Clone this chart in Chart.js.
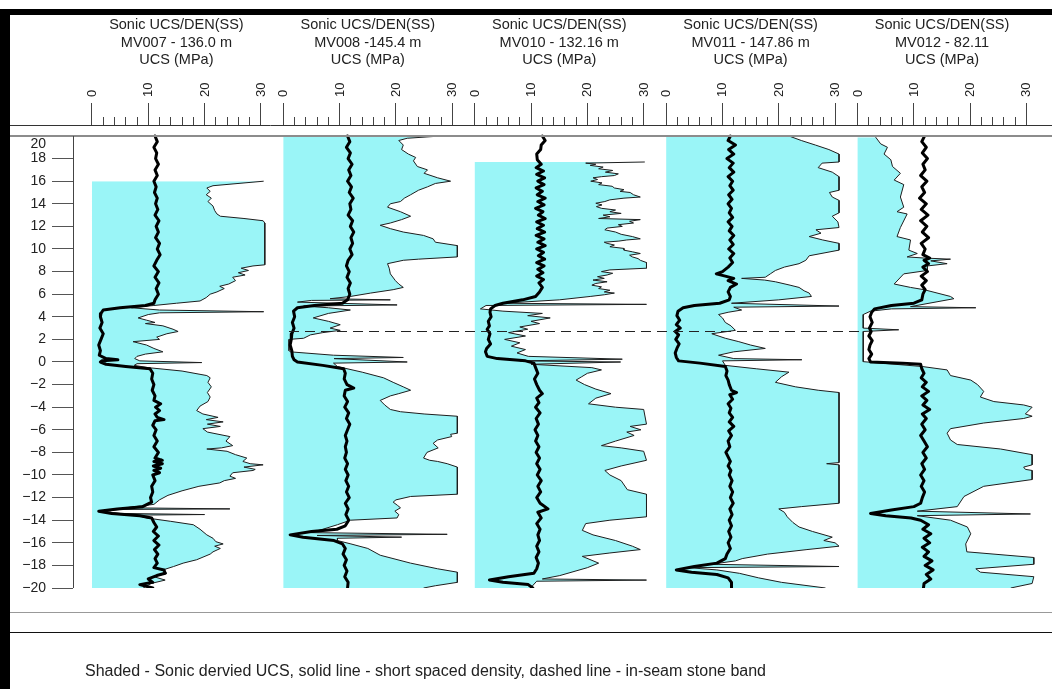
<!DOCTYPE html>
<html>
<head>
<meta charset="utf-8">
<title>Sonic UCS / density logs</title>
<script src="https://cdn.jsdelivr.net/npm/chart.js@4.4.1/dist/chart.umd.min.js"></script>
<style>
  html, body { margin: 0; padding: 0; background: #fff; }
  #wrap { position: relative; width: 1052px; height: 689px; overflow: hidden; }
  #plot { position: absolute; left: 0; top: 0; }
  .bar { position: absolute; background: #000; }
  .rule { position: absolute; left: 10px; width: 1042px; }
  #note { position: absolute; left: 85px; top: 662px; font: 16px "Liberation Sans", Arial, sans-serif; color: #222; white-space: nowrap; }
</style>
</head>
<body>
<div id="wrap">
  <canvas id="plot" width="1052" height="689"></canvas>
  <div class="bar" style="left:0;top:9px;width:1052px;height:6px"></div>
  <div class="bar" style="left:0;top:9px;width:10px;height:680px"></div>
  <div class="rule" style="top:612px;height:1px;background:#999"></div>
  <div class="rule" style="top:632px;height:1px;background:#111"></div>
  <div id="note">Shaded - Sonic dervied UCS, solid line - short spaced density, dashed line - in-seam stone band</div>
</div>
<script>
// ---- Track titles and tick values ----
const trackTitle = 'Sonic UCS/DEN(SS)';
const wellNames = ['MV007 - 136.0 m', 'MV008 -145.4 m', 'MV010 - 132.16 m', 'MV011 - 147.86 m', 'MV012 - 82.11'];
const axisTitle = 'UCS (MPa)';
const ucsMajorTicks = [0, 10, 20, 30];
const ucsMinorTicks = [0, 2, 4, 6, 8, 10, 12, 14, 16, 18, 20, 22, 24, 26, 28, 30];
const depthTicks = [-20, -18, -16, -14, -12, -10, -8, -6, -4, -2, 0, 2, 4, 6, 8, 10, 12, 14, 16, 18, 20];
const stoneBandDepth = 2.7;      // in-seam stone band (m relative to seam floor)
const stoneBandUcs = 1;          // where the dashed marker starts / ends on the UCS scale

// ---- Sonic UCS, [depth (m), UCS (MPa)] ----
const mv007Ucs = [[16.0,30.5],[15.6,21.5],[15.4,20.4],[15.1,21.0],[14.8,20.3],[14.5,21.2],[14.2,20.6],[13.8,21.5],[13.4,21.8],[13.1,22.2],[12.9,22.8],[12.7,27.0],[12.5,30.4],[12.3,30.7],[8.6,30.7],[8.5,28.6],[8.3,26.5],[8.1,27.8],[7.9,26.0],[7.7,27.2],[7.5,25.0],[7.2,25.5],[6.9,24.3],[6.7,22.7],[6.5,23.5],[6.2,22.2],[6.0,21.0],[5.7,20.3],[5.4,19.2],[5.2,15.0],[5.0,11.0],[4.8,7.0],[4.6,12.0],[4.45,30.5],[4.35,12.0],[4.2,10.0],[3.9,8.2],[3.7,9.7],[3.5,11.2],[3.4,9.5],[3.2,12.6],[2.9,14.4],[2.7,15.3],[2.5,13.3],[2.2,11.5],[2.0,12.0],[1.8,7.3],[1.5,9.7],[1.2,11.0],[0.9,12.6],[0.7,9.5],[0.5,8.0],[0.3,7.6],[0.1,8.5],[-0.05,19.5],[-0.15,8.0],[-0.3,7.5],[-0.5,10.0],[-0.8,16.0],[-1.2,20.4],[-1.4,21.0],[-1.8,20.6],[-2.2,21.2],[-2.7,20.5],[-3.1,21.0],[-3.5,20.6],[-3.9,19.2],[-4.3,18.6],[-4.6,19.7],[-4.9,22.4],[-5.1,20.3],[-5.3,23.3],[-5.5,20.5],[-5.7,22.8],[-5.9,19.7],[-6.2,20.5],[-6.6,24.5],[-7.0,23.8],[-7.4,25.0],[-7.6,23.0],[-7.7,20.4],[-7.9,24.0],[-8.2,25.5],[-8.5,27.5],[-8.8,26.8],[-9.0,28.1],[-9.1,30.4],[-9.3,27.0],[-9.5,29.0],[-9.6,28.6],[-9.8,25.0],[-10.1,24.5],[-10.3,25.5],[-10.5,23.5],[-10.7,22.7],[-11.0,19.0],[-11.4,16.0],[-11.8,13.5],[-12.2,12.0],[-12.6,11.0],[-12.9,6.0],[-13.0,24.5],[-13.05,5.0],[-13.2,1.5],[-13.4,5.0],[-13.5,20.0],[-13.55,8.0],[-13.8,9.7],[-14.1,14.0],[-14.4,18.0],[-14.8,19.2],[-15.3,20.4],[-15.6,21.5],[-15.9,22.0],[-16.1,23.3],[-16.3,21.8],[-16.5,22.8],[-16.8,21.5],[-17.0,21.0],[-17.5,18.6],[-17.8,16.2],[-18.1,14.5],[-18.4,12.6],[-18.7,13.3],[-19.0,11.0],[-19.3,13.0],[-19.6,10.5],[-20.0,9.1]];
const mv008Ucs = [[20.0,28.0],[19.8,22.0],[19.6,20.5],[19.2,21.3],[18.8,21.0],[18.4,22.2],[18.1,23.5],[17.8,23.1],[17.3,23.8],[17.0,25.6],[16.7,25.0],[16.3,27.4],[16.0,29.7],[15.8,27.0],[15.5,25.6],[15.2,24.0],[14.8,22.6],[14.5,21.5],[14.2,20.8],[14.0,19.0],[13.7,18.5],[13.3,20.8],[12.9,22.6],[12.6,21.0],[12.3,19.0],[12.1,17.2],[11.8,19.0],[11.5,21.3],[11.2,24.9],[10.9,26.6],[10.6,27.0],[10.3,30.9],[9.3,30.9],[9.1,24.0],[9.0,21.3],[8.7,18.5],[8.3,18.8],[7.8,19.0],[7.2,19.9],[6.9,20.5],[6.6,21.3],[6.4,19.5],[6.1,15.5],[5.8,11.9],[5.6,8.3],[5.5,19.0],[5.45,5.0],[5.3,2.5],[5.05,20.2],[4.95,3.6],[4.8,8.0],[4.6,11.9],[4.3,8.0],[3.9,5.3],[3.6,8.0],[3.3,10.1],[3.0,8.3],[2.8,10.1],[2.6,7.0],[2.4,4.8],[2.1,3.6],[2.0,1.0],[1.0,1.0],[0.9,1.2],[0.6,8.9],[0.4,21.3],[0.3,9.0],[0.0,22.0],[-0.1,8.9],[-0.4,9.6],[-0.9,14.0],[-1.4,17.8],[-1.8,19.5],[-2.2,21.3],[-2.5,22.6],[-2.8,20.5],[-3.0,19.0],[-3.4,17.2],[-3.8,18.0],[-4.2,19.0],[-4.4,20.8],[-4.6,25.0],[-4.8,30.9],[-6.3,30.9],[-6.4,29.7],[-6.6,29.9],[-6.9,27.4],[-7.2,26.6],[-7.6,27.5],[-8.0,25.5],[-8.5,24.9],[-8.7,26.0],[-8.8,27.4],[-9.0,29.1],[-9.3,30.9],[-11.7,30.9],[-11.9,22.6],[-12.2,20.0],[-12.4,19.5],[-12.7,20.3],[-12.9,20.8],[-13.2,19.8],[-13.5,20.5],[-13.8,20.2],[-14.0,11.9],[-14.4,9.6],[-14.8,7.0],[-15.1,5.0],[-15.25,29.1],[-15.35,6.0],[-15.5,21.0],[-15.6,9.6],[-15.8,9.6],[-16.1,12.0],[-16.5,15.0],[-17.1,17.2],[-17.8,22.6],[-18.3,27.4],[-18.6,30.9],[-19.5,30.9],[-19.8,27.0],[-20.0,24.9]];
const mv010Ucs = [[17.7,30.2],[17.6,19.7],[17.5,21.5],[17.4,20.5],[17.25,22.8],[17.1,22.0],[16.95,24.5],[16.8,23.2],[16.65,25.5],[16.5,24.8],[16.4,22.5],[16.3,21.0],[16.15,21.8],[16.0,20.6],[15.85,22.6],[15.7,22.0],[15.55,24.4],[15.4,24.8],[15.25,26.5],[15.1,25.8],[15.0,27.6],[14.8,28.2],[14.6,29.4],[14.5,26.5],[14.35,24.0],[14.2,23.1],[14.05,21.5],[13.9,22.6],[13.75,21.6],[13.6,22.5],[13.45,25.0],[13.3,24.0],[13.15,26.0],[13.0,22.8],[12.85,24.0],[12.7,22.0],[12.6,29.4],[12.45,27.5],[12.3,28.2],[12.15,25.5],[12.0,26.2],[11.85,23.5],[11.7,23.1],[11.5,25.0],[11.3,26.0],[11.1,28.0],[10.9,29.4],[10.8,27.0],[10.7,25.6],[10.6,23.0],[10.5,23.5],[10.35,24.8],[10.2,24.0],[10.05,26.5],[9.9,26.5],[9.75,28.0],[9.6,29.4],[9.45,27.5],[9.3,28.0],[9.15,29.0],[9.0,29.4],[8.8,30.5],[8.3,30.5],[8.15,24.0],[8.0,22.5],[7.85,24.5],[7.7,23.5],[7.55,21.8],[7.4,23.0],[7.25,21.0],[7.1,23.5],[6.95,21.5],[6.8,20.8],[6.65,22.5],[6.5,22.0],[6.35,24.0],[6.2,23.0],[6.1,24.8],[5.95,23.0],[5.8,20.5],[5.5,15.0],[5.2,5.0],[5.1,30.5],[5.0,2.0],[4.7,1.0],[4.5,5.0],[4.3,12.0],[4.1,9.4],[3.9,13.4],[3.6,10.0],[3.4,11.5],[3.1,8.0],[2.9,9.4],[2.6,6.0],[2.3,9.0],[2.0,5.3],[1.7,8.0],[1.4,6.5],[1.1,9.0],[0.8,7.5],[0.5,9.5],[0.25,26.2],[0.1,8.0],[0.0,25.9],[-0.2,10.0],[-0.5,20.8],[-0.7,22.5],[-1.0,20.0],[-1.3,19.0],[-1.6,18.0],[-2.0,19.5],[-2.4,21.5],[-2.8,24.2],[-3.2,21.5],[-3.7,20.2],[-4.0,25.0],[-4.2,30.0],[-5.5,30.5],[-5.7,27.6],[-6.0,29.5],[-6.2,27.0],[-6.5,28.3],[-7.0,25.0],[-7.4,22.5],[-7.6,26.0],[-7.9,30.0],[-8.7,30.5],[-9.2,26.0],[-9.6,23.1],[-10.0,24.0],[-10.5,26.0],[-11.3,27.1],[-11.7,30.5],[-13.7,30.5],[-14.0,24.0],[-14.3,19.7],[-14.9,19.1],[-15.3,21.0],[-15.8,25.0],[-16.3,28.0],[-16.6,29.4],[-16.9,24.0],[-17.2,19.1],[-17.8,22.0],[-18.2,20.0],[-18.9,15.1],[-19.2,12.0],[-19.3,30.5],[-19.4,11.0],[-20.0,9.9]];
const mv011Ucs = [[20.0,21.8],[19.6,24.0],[19.2,26.5],[18.8,28.9],[18.4,30.7],[17.7,30.7],[17.6,27.7],[17.2,27.0],[16.8,29.5],[16.4,30.7],[15.2,30.7],[15.0,29.0],[14.6,29.5],[14.3,30.7],[13.2,30.7],[12.9,29.5],[12.4,30.5],[11.9,30.7],[11.7,26.6],[11.4,27.5],[11.1,25.4],[10.8,27.8],[10.5,30.7],[9.9,30.7],[9.4,25.4],[9.0,24.8],[8.7,23.6],[8.4,21.0],[8.1,19.4],[7.8,18.5],[7.5,17.6],[7.4,13.4],[7.25,17.5],[7.1,19.4],[6.8,22.0],[6.6,23.6],[6.3,24.5],[6.1,25.4],[5.8,25.8],[5.5,20.0],[5.2,11.6],[4.95,30.7],[4.85,12.0],[4.6,13.4],[4.4,11.0],[4.2,9.3],[3.9,10.0],[3.5,10.5],[3.2,11.5],[2.8,12.3],[2.5,8.1],[2.1,10.5],[1.8,12.9],[1.5,15.0],[1.2,17.6],[0.9,12.0],[0.6,9.3],[0.3,12.0],[0.2,24.1],[0.1,10.0],[-0.3,10.5],[-0.6,16.0],[-0.9,21.8],[-1.3,20.5],[-1.8,19.4],[-2.2,23.0],[-2.5,27.0],[-2.7,30.7],[-8.9,30.7],[-9.0,28.5],[-9.1,30.7],[-12.5,30.7],[-12.8,24.0],[-13.0,20.0],[-13.3,21.0],[-13.7,21.5],[-14.2,22.5],[-14.6,23.6],[-15.0,26.0],[-15.5,29.5],[-15.8,28.0],[-16.0,30.0],[-16.3,30.7],[-16.6,25.0],[-17.0,18.0],[-17.4,13.5],[-17.6,12.3],[-17.9,8.0],[-18.1,30.7],[-18.2,4.0],[-18.4,9.0],[-18.7,13.0],[-19.1,16.4],[-19.5,20.5],[-20.0,28.3]];
const mv012Ucs = [[19.9,3.2],[19.3,4.1],[19.0,5.3],[18.4,4.7],[17.9,5.9],[17.3,6.2],[16.7,7.6],[16.1,6.5],[15.7,8.2],[14.6,7.6],[13.7,8.2],[13.3,7.0],[13.1,8.8],[11.9,7.6],[11.1,7.0],[10.8,9.4],[9.9,9.1],[9.6,10.6],[9.3,8.8],[9.2,11.8],[9.1,16.5],[8.95,13.0],[8.7,15.9],[8.5,12.4],[8.1,12.4],[7.8,8.2],[6.9,6.5],[6.6,9.4],[6.4,11.8],[5.8,16.5],[5.6,17.1],[4.9,9.4],[4.8,21.0],[4.7,6.0],[4.5,2.3],[4.2,1.0],[3.0,1.0],[2.85,7.3],[2.7,1.0],[0.2,1.0],[0.03,1.0],[-0.4,11.5],[-0.7,15.9],[-1.2,16.5],[-1.6,20.1],[-2.0,21.3],[-2.6,22.4],[-3.1,21.8],[-3.5,24.2],[-3.8,29.5],[-4.0,31.0],[-4.6,29.8],[-4.8,31.0],[-5.0,29.5],[-5.4,22.4],[-5.9,16.5],[-6.3,15.9],[-6.9,16.5],[-7.3,17.7],[-7.7,25.4],[-8.2,31.0],[-9.1,31.0],[-9.3,29.5],[-9.5,29.8],[-9.6,31.0],[-10.4,31.0],[-11.0,22.4],[-11.9,18.9],[-12.8,17.7],[-13.2,10.6],[-13.45,30.7],[-13.6,10.6],[-14.0,16.5],[-14.6,19.5],[-15.2,20.1],[-16.1,19.2],[-16.8,19.4],[-17.3,31.3],[-17.9,31.3],[-18.3,21.0],[-18.6,21.8],[-19.0,31.3],[-19.6,31.0],[-20.0,27.2]];

// ---- Short-spaced density trace on the same track, [depth (m), value] ----
const mv007Den = [[20,11.2],[19.5,11.6],[19.0,11.0],[18.5,11.5],[18.0,11.3],[17.5,11.8],[17.0,11.2],[16.5,11.6],[16.0,11.0],[15.5,11.4],[15.0,11.1],[14.5,11.6],[14.0,11.3],[13.5,11.7],[13.0,11.2],[12.5,11.9],[12.0,11.4],[11.5,11.8],[11.0,11.3],[10.5,12.0],[10.0,11.6],[9.5,12.1],[9.0,11.5],[8.5,11.0],[8.0,11.8],[7.5,11.2],[7.0,11.9],[6.5,11.4],[6.0,11.8],[5.5,11.2],[5.2,11.0],[5.0,9.5],[4.8,5.0],[4.6,2.0],[4.3,1.6],[4.0,1.5],[3.5,1.8],[3.0,1.4],[2.5,2.0],[2.0,1.6],[1.5,1.2],[1.0,1.5],[0.6,1.3],[0.3,2.5],[0.2,4.6],[0.1,1.8],[0.0,1.5],[-0.2,2.5],[-0.4,6.0],[-0.6,10.3],[-1.0,10.8],[-1.5,10.6],[-2.0,11.0],[-2.5,10.7],[-3.0,11.2],[-3.4,11.0],[-3.7,12.2],[-4.0,11.3],[-4.3,12.0],[-4.6,11.2],[-4.9,11.6],[-5.1,12.8],[-5.2,11.2],[-5.6,10.8],[-6.0,11.4],[-6.5,11.0],[-7.0,11.6],[-7.5,11.0],[-8.0,11.8],[-8.5,11.2],[-8.7,12.5],[-8.8,11.0],[-9.0,12.5],[-9.2,10.9],[-9.4,12.2],[-9.6,11.0],[-9.8,12.0],[-10.0,10.8],[-10.5,11.2],[-11.0,10.6],[-11.5,10.8],[-12.0,10.4],[-12.4,10.6],[-12.8,9.0],[-13.0,4.5],[-13.2,1.2],[-13.4,3.5],[-13.6,8.5],[-13.8,10.6],[-14.2,11.0],[-14.6,11.5],[-15.0,10.9],[-15.4,11.8],[-15.8,11.0],[-16.2,11.9],[-16.6,11.1],[-17.0,11.7],[-17.4,11.2],[-17.8,11.6],[-18.2,11.0],[-18.4,12.8],[-18.7,13.0],[-18.9,11.5],[-19.2,10.0],[-19.5,10.8],[-19.7,8.5],[-20.0,10.8]];
const mv008Den = [[20,11.4],[19.5,11.8],[19.0,11.2],[18.5,11.9],[18.0,11.5],[17.5,12.2],[17.0,11.6],[16.5,12.0],[16.0,11.4],[15.5,12.1],[15.0,11.7],[14.5,12.4],[14.0,11.8],[13.5,12.0],[13.0,11.5],[12.5,12.3],[12.0,11.9],[11.5,12.5],[11.0,12.0],[10.5,12.3],[10.0,11.8],[9.5,12.2],[9.0,11.5],[8.5,11.2],[8.0,11.7],[7.5,11.3],[7.0,11.9],[6.5,11.5],[6.0,11.8],[5.5,11.4],[5.2,10.5],[5.0,5.5],[4.8,2.5],[4.5,1.8],[4.0,2.0],[3.5,1.6],[3.0,1.9],[2.5,1.5],[2.0,1.4],[1.5,1.2],[1.0,1.5],[0.5,1.6],[0.2,1.9],[0.0,2.5],[-0.3,7.0],[-0.6,10.7],[-1.0,11.0],[-1.5,10.8],[-2.0,11.3],[-2.3,12.5],[-2.5,11.0],[-3.0,10.8],[-3.5,11.4],[-4.0,10.9],[-4.5,11.6],[-5.0,11.2],[-5.5,11.8],[-6.0,11.4],[-6.5,11.0],[-7.0,11.3],[-7.5,11.0],[-8.0,11.2],[-8.5,10.9],[-9.0,11.4],[-9.5,11.0],[-10.0,11.5],[-10.5,11.1],[-11.0,11.6],[-11.5,11.2],[-12.0,11.7],[-12.5,11.0],[-13.0,11.5],[-13.5,11.1],[-14.0,11.6],[-14.5,11.0],[-14.8,9.5],[-15.0,5.0],[-15.3,1.2],[-15.5,3.5],[-15.8,9.0],[-16.1,10.5],[-16.5,11.0],[-17.0,10.6],[-17.5,11.2],[-18.0,10.8],[-18.5,11.3],[-19.0,10.9],[-19.5,11.5],[-20.0,11.4]];
const mv010Den = [[20,12.0],[19.6,12.5],[19.2,11.8],[18.8,11.7],[18.4,11.0],[17.9,11.1],[17.5,11.8],[17.2,10.9],[16.9,12.2],[16.6,11.0],[16.3,12.4],[16.0,11.2],[15.7,12.3],[15.4,10.9],[15.1,12.0],[14.8,11.1],[14.5,12.5],[14.2,11.2],[13.9,12.3],[13.6,10.8],[13.3,12.1],[13.0,11.3],[12.7,12.5],[12.4,11.0],[12.1,12.2],[11.8,11.1],[11.5,12.4],[11.2,10.9],[10.9,12.3],[10.6,11.2],[10.3,12.5],[10.0,11.0],[9.7,12.2],[9.4,11.3],[9.1,12.4],[8.8,11.0],[8.5,12.3],[8.2,11.2],[7.9,12.1],[7.6,11.0],[7.3,12.2],[7.0,11.4],[6.6,12.0],[6.2,11.5],[5.8,10.8],[5.5,8.5],[5.2,5.0],[5.0,3.6],[4.7,2.8],[4.4,2.7],[4.0,2.9],[3.6,2.4],[3.2,2.6],[2.9,2.2],[2.5,2.7],[2.0,2.4],[1.6,2.8],[1.2,2.1],[0.9,1.9],[0.5,2.2],[0.3,4.0],[0.1,9.0],[-0.1,10.5],[-0.5,10.8],[-1.0,11.2],[-1.5,10.6],[-2.0,11.0],[-2.5,11.5],[-2.8,12.0],[-3.2,11.0],[-3.6,11.4],[-4.0,10.8],[-4.5,11.6],[-5.0,10.9],[-5.5,11.3],[-6.0,10.7],[-6.5,11.2],[-7.0,10.8],[-7.5,11.4],[-8.0,10.9],[-8.5,11.5],[-9.0,11.0],[-9.5,11.6],[-10.0,11.1],[-10.5,11.8],[-11.0,11.2],[-11.5,11.7],[-12.0,11.0],[-12.5,11.6],[-13.0,13.0],[-13.3,11.2],[-13.8,11.8],[-14.3,11.0],[-14.8,11.6],[-15.3,11.2],[-15.8,11.5],[-16.3,11.0],[-16.8,11.4],[-17.3,10.9],[-17.8,11.3],[-18.3,11.0],[-18.7,10.5],[-19.0,6.0],[-19.3,2.6],[-19.5,5.0],[-19.7,9.5],[-20.0,10.3]];
const mv011Den = [[20,11.4],[19.6,11.0],[19.2,12.3],[18.8,11.1],[18.4,12.0],[18.0,10.8],[17.6,11.9],[17.2,11.2],[16.8,12.0],[16.4,11.0],[16.0,11.8],[15.6,11.3],[15.2,11.9],[14.8,11.1],[14.4,11.7],[14.0,11.0],[13.6,11.6],[13.2,11.2],[12.8,11.8],[12.4,11.0],[12.0,11.7],[11.6,11.2],[11.2,12.0],[10.8,11.3],[10.4,11.9],[10.0,11.1],[9.6,12.0],[9.2,11.3],[8.8,11.8],[8.4,11.0],[8.0,10.0],[7.8,8.9],[7.6,10.5],[7.4,12.0],[7.2,11.0],[6.9,12.5],[6.6,11.4],[6.2,11.0],[5.8,11.4],[5.5,11.2],[5.2,9.5],[5.0,5.0],[4.8,3.0],[4.5,2.1],[4.1,1.9],[3.7,2.4],[3.3,1.8],[3.0,2.5],[2.7,1.6],[2.4,2.2],[2.0,1.7],[1.6,2.3],[1.2,1.9],[0.8,1.6],[0.4,1.8],[0.1,2.2],[-0.1,6.0],[-0.4,10.5],[-0.8,10.8],[-1.2,10.6],[-1.6,11.0],[-2.0,11.2],[-2.5,11.6],[-2.7,12.5],[-2.9,11.3],[-3.3,11.8],[-3.7,11.0],[-4.1,11.5],[-4.5,11.2],[-4.9,11.8],[-5.3,11.2],[-5.7,12.0],[-6.1,11.1],[-6.5,11.6],[-7.0,11.0],[-7.5,11.3],[-8.0,10.6],[-8.4,11.0],[-8.8,11.4],[-9.2,11.0],[-9.6,11.5],[-10.0,11.2],[-10.5,11.7],[-11.0,11.3],[-11.5,11.8],[-12.0,11.4],[-12.5,11.9],[-13.0,11.3],[-13.5,11.7],[-14.0,11.2],[-14.5,11.6],[-15.0,11.1],[-15.5,11.5],[-16.0,11.0],[-16.5,11.4],[-17.0,10.8],[-17.4,10.5],[-17.8,9.0],[-18.1,5.0],[-18.4,1.8],[-18.6,4.5],[-18.8,9.0],[-19.1,11.0],[-19.5,11.6],[-20.0,11.6]];
const mv012Den = [[19.9,11.8],[19.5,11.4],[19.0,12.2],[18.5,11.5],[18.0,12.4],[17.5,11.6],[17.0,12.0],[16.5,11.2],[16.0,12.3],[15.5,11.4],[15.0,11.9],[14.5,11.0],[14.0,12.2],[13.5,11.3],[13.0,12.5],[12.5,11.2],[12.0,12.3],[11.5,11.5],[11.0,12.6],[10.5,11.3],[10.0,12.0],[9.5,11.6],[9.2,12.8],[9.0,11.8],[8.7,12.6],[8.4,11.6],[8.0,12.4],[7.6,11.3],[7.2,12.2],[6.8,11.4],[6.4,12.0],[6.0,11.6],[5.5,11.4],[5.2,10.0],[5.0,6.0],[4.7,3.0],[4.4,2.5],[4.0,2.2],[3.5,2.6],[3.0,2.1],[2.7,2.4],[2.3,2.0],[1.9,2.6],[1.5,2.2],[1.1,2.0],[0.7,2.5],[0.3,2.0],[0.0,2.3],[-0.1,8.0],[-0.2,11.2],[-0.6,11.4],[-1.0,11.8],[-1.4,11.3],[-1.8,12.2],[-2.2,11.5],[-2.6,12.6],[-3.0,11.4],[-3.4,12.3],[-3.8,11.6],[-4.2,12.8],[-4.6,11.5],[-5.0,12.2],[-5.5,11.4],[-6.0,12.0],[-6.5,11.2],[-7.0,11.8],[-7.5,12.4],[-8.0,11.6],[-8.5,12.2],[-9.0,11.4],[-9.5,11.9],[-10.0,11.2],[-10.5,11.8],[-11.0,11.3],[-11.5,11.9],[-12.0,11.5],[-12.5,11.2],[-12.8,10.0],[-13.1,6.0],[-13.4,2.3],[-13.6,5.0],[-13.8,9.5],[-14.0,11.2],[-14.4,12.6],[-14.8,11.6],[-15.2,13.0],[-15.6,11.8],[-16.0,12.8],[-16.4,11.5],[-16.8,12.6],[-17.2,11.8],[-17.6,13.2],[-18.0,12.0],[-18.4,13.4],[-18.8,12.2],[-19.2,13.0],[-19.6,11.8],[-20.0,11.7]];

const ucsSeries = [mv007Ucs, mv008Ucs, mv010Ucs, mv011Ucs, mv012Ucs];
const denSeries = [mv007Den, mv008Den, mv010Den, mv011Den, mv012Den];

// ---- Track layout (in UCS units along the shared horizontal extent) ----
const TRACK_STRIDE = 34;     // distance between successive track origins
const LEFT_MARGIN = 3.37;    // gap between the depth axis and the first track origin
const SPAN = 173.9;          // total horizontal extent of the plotting area
const FONT = '"Liberation Sans", Arial, Helvetica, sans-serif';
const CYAN = '#9af5f7';

function trackScale(i) {
  const min = -LEFT_MARGIN - i * TRACK_STRIDE;
  return { type: 'linear', display: false, min: min, max: min + SPAN };
}

const toPoints = (arr) => arr.map(([d, v]) => ({ x: v, y: d }));
const depthLabel = (v) => (v < 0 ? '\u2212' + Math.abs(v) : String(v));

const datasets = [];
denSeries.forEach((s, i) => datasets.push({
  label: 'Density ' + wellNames[i], xAxisID: 't' + i, yAxisID: 'y', data: toPoints(s),
  borderColor: '#000', borderWidth: 3, pointRadius: 0, fill: false, order: 0,
  borderJoinStyle: 'round', borderCapStyle: 'round'
}));
ucsSeries.forEach((s, i) => datasets.push({
  label: 'UCS ' + wellNames[i], xAxisID: 't' + i, yAxisID: 'y', data: toPoints(s),
  borderColor: '#1e1e1e', borderWidth: 1, pointRadius: 0, fill: 'origin',
  backgroundColor: CYAN, order: 1
}));

// top axis tick positions across all tracks
const majorTickValues = [], minorTickValues = [], majorTickLabel = {};
wellNames.forEach((_, i) => {
  ucsMajorTicks.forEach(v => { const p = i * TRACK_STRIDE + v; majorTickValues.push(p); majorTickLabel[p] = String(v); });
  ucsMinorTicks.forEach(v => minorTickValues.push(i * TRACK_STRIDE + v));
});

const scales = {
  y: {
    type: 'linear', position: 'left', min: -20, max: 20.973,
    afterBuildTicks: (s) => { s.ticks = depthTicks.map(v => ({ value: v })); },
    afterFit: (s) => { s.width = 73; },
    grid: { display: true, drawOnChartArea: false, drawTicks: true, tickLength: 21, color: '#555', lineWidth: 1 },
    border: { display: false },
    ticks: { autoSkip: false, padding: 6, color: '#222', font: { family: FONT, size: 14 },
      callback: (v) => (v === 20 ? '' : depthLabel(v)) }
  },
  ucsMajor: {
    type: 'linear', position: 'top', weight: 2, min: -LEFT_MARGIN, max: -LEFT_MARGIN + SPAN,
    afterBuildTicks: (s) => { s.ticks = majorTickValues.map(v => ({ value: v })); },
    afterFit: (s) => { s.height = 125; },
    grid: { display: true, drawOnChartArea: false, drawTicks: true, tickLength: 22, color: '#444', lineWidth: 1 },
    border: { display: false },
    ticks: { autoSkip: false, minRotation: 90, maxRotation: 90, padding: 6, labelOffset: 16, color: '#222',
      font: { family: FONT, size: 13 }, callback: (v) => majorTickLabel[v] ?? '' }
  },
  ucsMinor: {
    type: 'linear', position: 'top', weight: 1, min: -LEFT_MARGIN, max: -LEFT_MARGIN + SPAN,
    afterBuildTicks: (s) => { s.ticks = minorTickValues.map(v => ({ value: v })); },
    afterFit: (s) => { s.height = 0; },
    grid: { display: true, drawOnChartArea: false, drawTicks: true, tickLength: 8, color: '#444', lineWidth: 1 },
    border: { display: false },
    ticks: { display: false, autoSkip: false }
  }
};
wellNames.forEach((_, i) => { scales['t' + i] = trackScale(i); });

// frame lines, track headings, depth axis line and the stone-band marker
const trackDecor = {
  id: 'trackDecor',
  afterDatasetsDraw(chart) {
    const ctx = chart.ctx, y = chart.scales.y;
    const yb = y.getPixelForValue(stoneBandDepth);
    const x1 = chart.scales.t1.getPixelForValue(stoneBandUcs);
    const x2 = chart.scales.t4.getPixelForValue(stoneBandUcs);
    ctx.save();
    ctx.strokeStyle = '#222'; ctx.lineWidth = 1; ctx.setLineDash([10, 6]);
    ctx.beginPath(); ctx.moveTo(x1, Math.round(yb) + 0.5); ctx.lineTo(x2, Math.round(yb) + 0.5); ctx.stroke();
    ctx.restore();
  },
  afterDraw(chart) {
    const ctx = chart.ctx, area = chart.chartArea, y = chart.scales.y;
    const yTop = y.getPixelForValue(20), yBot = y.getPixelForValue(-20);
    ctx.save();
    ctx.strokeStyle = '#333'; ctx.lineWidth = 1;
    ctx.beginPath(); ctx.moveTo(10, area.top + 0.5); ctx.lineTo(chart.width, area.top + 0.5); ctx.stroke();
    ctx.strokeStyle = '#8c8c8c'; ctx.lineWidth = 2;
    ctx.beginPath(); ctx.moveTo(10, yTop); ctx.lineTo(chart.width, yTop); ctx.stroke();
    ctx.strokeStyle = '#444'; ctx.lineWidth = 1;
    ctx.beginPath(); ctx.moveTo(area.left + 0.5, yTop); ctx.lineTo(area.left + 0.5, yBot); ctx.stroke();
    // top depth label sits just inside the track frame
    ctx.fillStyle = '#222'; ctx.font = '14px ' + FONT; ctx.textAlign = 'right'; ctx.textBaseline = 'middle';
    ctx.fillText('20', area.left - 27, yTop + 8);
    // track headings
    ctx.textAlign = 'center'; ctx.font = '14.5px ' + FONT;
    wellNames.forEach((name, i) => {
      const cx = chart.scales['t' + i].getPixelForValue(15);
      ctx.fillText(trackTitle, cx, 25);
      ctx.fillText(name, cx, 43);
      ctx.fillText(axisTitle, cx, 60);
    });
    ctx.restore();
  }
};

new Chart(document.getElementById('plot'), {
  type: 'line',
  data: { datasets },
  options: {
    indexAxis: 'y',
    responsive: false,
    animation: false,
    spanGaps: true,
    layout: { padding: { left: 0, top: 0, right: 0, bottom: 101 } },
    plugins: { legend: { display: false }, tooltip: { enabled: false }, title: { display: false } },
    elements: { line: { tension: 0 } },
    scales
  },
  plugins: [trackDecor]
});
</script>
</body>
</html>
